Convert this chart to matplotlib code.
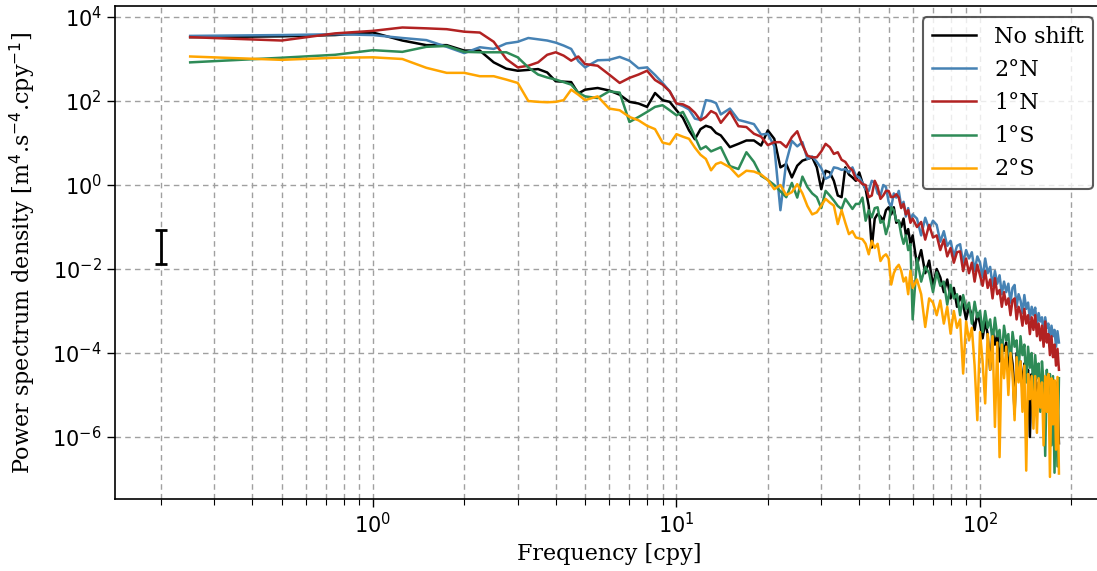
import numpy as np
import matplotlib
matplotlib.use("Agg")
import matplotlib.pyplot as plt
from matplotlib.ticker import LogLocator, NullLocator, FixedLocator

# frequency grid [cpy]: fine at low frequency, coarser in the noisy tail
freq = np.concatenate([np.arange(1, 21) * 0.25,
                       np.arange(11, 29) * 0.5,
                       np.arange(15, 61),
                       np.arange(62, 183, 2)])

# log10 of the power spectrum density
log_noshift = [
    3.52, 3.54, 3.57, 3.63, 3.44, 3.33, 3.33, 3.20, 3.20, 2.92, 2.77, 2.72, 2.74, 2.76, 2.68, 2.47, 2.46, 2.45, 2.18, 2.27,
    2.31, 2.25, 2.15, 1.98, 1.94, 1.86, 2.19, 2.02, 1.98, 1.78, 1.60, 1.30, 1.09, 1.33, 1.41, 1.37, 1.24, 1.18,
    0.90, 0.98, 1.06, 1.06, 0.94, 1.30, 1.10, 0.42, 0.50, 0.18,
    0.46, 0.58, 0.62, 0.66, 0.42, -0.10, 0.34, 0.30, 0.10, -0.25,
    -0.29, 0.42, 0.25, 0.18, 0.10, 0.30, 0.05, -0.10, -0.50, -1.49,
    -0.80, -0.69, -0.75, -0.85, -0.60, -0.53, -0.70, -0.53, -0.90, -0.85,
    -1.00, -0.80, -1.20, -1.05, -1.40, -1.20,
    -1.90, -1.55, -2.10, -1.80, -2.40, -2.00, -2.20, -2.55, -2.25, -2.70,
    -2.45, -2.90, -2.65, -2.85, -3.20, -2.90, -3.10, -3.45, -3.05, -3.30,
    -3.65, -3.25, -3.55, -4.40, -3.45, -3.80, -3.55, -4.20, -3.70, -3.95,
    -3.75, -4.50, -3.90, -4.25, -5.45, -4.00, -4.45, -4.20, -4.90, -4.25,
    -4.60, -4.40, -6.00, -4.50, -4.85, -4.60, -5.30, -4.70, -5.05, -4.85,
    -5.60, -4.90, -5.20, -5.00, -5.80, -5.05, -5.40, -5.20, -6.00, -5.20,
    -6.15]

log_2n = [
    3.55, 3.57, 3.59, 3.57, 3.50, 3.45, 3.29, 3.14, 3.28, 3.24, 3.37, 3.41, 3.50, 3.47, 3.44, 3.39, 3.32, 3.24, 2.95, 2.80,
    2.97, 2.98, 3.05, 2.96, 2.78, 2.80, 2.62, 2.43, 2.23, 1.94, 1.88, 1.80, 1.58, 1.55, 2.02, 2.00, 1.95, 1.68,
    1.82, 1.55, 1.50, 1.45, 1.20, 1.22, 0.92, -0.60, 0.55, 1.05,
    0.92, 1.02, 0.62, 0.68, 0.55, 0.40, 0.15, 0.20, 0.42, 0.40,
    0.36, 0.38, 0.30, 0.42, 0.22, 0.18, 0.05, -0.10, -0.14, 0.10,
    0.05, -0.20, -0.25, 0.00, -0.05, -0.40, -0.53, -0.20, -0.30, -0.14,
    -0.50, -0.40, -0.75, -0.55, -0.85, -0.70,
    -0.80, -1.20, -0.78, -1.05, -0.85, -0.95, -1.35, -1.10, -1.45, -1.33,
    -1.70, -1.45, -1.41, -1.85, -1.55, -1.75, -1.60, -2.05, -1.70, -1.85,
    -2.20, -1.75, -2.10, -1.95, -2.40, -2.05, -2.35, -2.15, -2.60, -2.30,
    -2.55, -2.35, -2.80, -2.45, -2.38, -2.90, -2.60, -2.75, -3.05, -2.62,
    -2.95, -2.80, -3.20, -2.90, -3.10, -2.92, -3.35, -3.05, -3.25, -3.15,
    -3.55, -3.15, -3.40, -3.30, -3.70, -3.35, -3.60, -3.45, -3.85, -3.48,
    -3.75]

log_1n = [
    3.52, 3.44, 3.61, 3.67, 3.75, 3.73, 3.71, 3.65, 3.63, 3.41, 3.00, 2.80, 2.84, 2.92, 3.10, 3.16, 3.08, 2.96, 3.06, 2.88,
    2.84, 2.63, 2.43, 2.55, 2.63, 2.72, 2.50, 2.39, 2.23, 1.94, 1.92, 1.85, 1.72, 1.54, 1.62, 1.76, 1.70, 1.48,
    1.75, 1.40, 1.38, 1.22, 1.15, 0.95, 1.02, 1.02, 0.90, 1.14,
    1.28, 0.95, 0.70, 0.66, 0.66, 0.80, 0.98, 0.90, 0.74, 0.78,
    0.60, 0.55, 0.42, 0.35, 0.14, 0.10, 0.02, 0.00, -0.29, -0.25,
    0.10, -0.05, -0.33, -0.25, -0.14, -0.14, -0.29, -0.28, -0.22, -0.30,
    -0.55, -0.45, -0.70, -0.60, -0.90, -0.80,
    -1.00, -0.88, -1.30, -0.95, -1.25, -1.20, -1.55, -1.30, -1.70, -1.50,
    -1.85, -1.60, -1.58, -2.05, -1.75, -2.10, -1.85, -2.30, -1.90, -2.15,
    -2.40, -2.05, -2.45, -2.25, -2.70, -2.22, -2.60, -2.50, -2.90, -2.55,
    -2.85, -2.70, -3.10, -2.75, -2.70, -3.20, -2.90, -3.05, -3.35, -2.95,
    -3.30, -3.10, -3.55, -3.15, -3.45, -3.10, -3.60, -3.30, -3.70, -3.35,
    -3.85, -3.25, -3.75, -3.55, -4.05, -3.60, -4.10, -3.80, -4.30, -3.90,
    -4.40]

log_1s = [
    2.92, 3.03, 3.10, 3.21, 3.17, 3.29, 3.31, 3.17, 3.16, 3.16, 3.16, 3.04, 2.80, 2.63, 2.56, 2.51, 2.45, 2.39, 2.20, 2.11,
    2.07, 2.23, 2.20, 1.50, 1.62, 1.74, 1.86, 1.90, 1.78, 1.66, 1.74, 1.46, 1.15, 0.85, 0.92, 0.80, 0.85, 0.90,
    0.45, 0.38, 0.78, 0.55, 0.22, 0.12, 0.00, -0.15, -0.29, 0.05,
    -0.30, 0.20, -0.05, -0.20, -0.29, -0.55, -0.14, -0.25, -0.37, -0.50,
    -0.57, -0.33, -0.45, -0.57, -0.45, -0.45, -0.30, -0.85, -0.60, -0.77,
    -0.55, -0.53, -0.90, -0.85, -1.17, -0.95, -0.53, -0.60, -0.85, -0.85,
    -1.18, -1.40, -1.20, -1.55, -1.41, -3.20,
    -1.75, -2.30, -1.95, -2.10, -2.55, -2.08, -2.40, -2.30, -2.85, -2.38,
    -2.70, -2.60, -3.10, -2.62, -2.95, -2.80, -3.30, -2.78, -3.15, -3.00,
    -3.50, -3.00, -3.40, -3.20, -3.75, -3.16, -3.60, -3.45, -4.10, -3.35,
    -3.70, -3.55, -4.30, -3.50, -3.85, -3.70, -4.50, -3.60, -4.05, -3.80,
    -4.70, -3.85, -4.35, -4.00, -5.00, -4.05, -4.60, -4.25, -5.40, -4.20,
    -4.70, -6.45, -4.40, -5.10, -4.50, -6.20, -4.55, -6.85, -4.70, -6.70,
    -4.60]

log_2s = [
    3.06, 2.98, 3.03, 3.04, 3.00, 2.79, 2.67, 2.67, 2.59, 2.59, 2.51, 2.43, 2.00, 1.98, 1.97, 1.98, 2.02, 2.27, 2.15, 2.02,
    2.11, 1.82, 1.78, 1.62, 1.54, 1.41, 1.33, 1.01, 0.97, 1.21, 1.15, 1.10, 0.89, 0.72, 0.62, 0.35, 0.50, 0.54,
    0.42, 0.20, 0.34, 0.32, 0.25, 0.12, -0.10, 0.00, -0.24, -0.17,
    0.02, -0.20, -0.50, -0.70, -0.65, -0.49, -0.33, -0.42, -0.49, -0.93,
    -0.60, -0.90, -1.17, -1.10, -1.25, -1.27, -1.29, -1.40, -1.65, -1.33,
    -1.50, -1.40, -1.81, -1.70, -1.65, -1.75, -2.37, -2.10, -1.97, -1.90,
    -2.04, -2.30, -2.20, -2.60, -2.04, -2.45,
    -2.25, -2.60, -3.38, -2.70, -2.80, -3.10, -2.75, -3.30, -2.90, -3.54,
    -3.00, -3.40, -3.20, -4.49, -3.25, -3.70, -3.40, -4.30, -5.60, -3.50,
    -4.20, -5.20, -3.55, -4.40, -3.60, -5.76, -3.75, -6.48, -3.80, -4.60,
    -3.85, -5.00, -4.00, -4.50, -5.60, -4.10, -4.70, -4.20, -5.40, -4.30,
    -6.80, -4.50, -5.10, -4.55, -5.80, -4.55, -5.90, -4.60, -5.30, -4.70,
    -6.20, -4.55, -5.40, -4.50, -6.95, -4.60, -5.70, -4.65, -6.30, -4.57,
    -6.87]

labels = ["No shift", "2°N", "1°N", "1°S", "2°S"]
colors = ["black", "steelblue", "firebrick", "seagreen", "orange"]

# confidence interval bar
err_f = 0.2
err_lo = 0.013
err_hi = 0.085

fig = plt.figure(figsize=(10.97, 5.71), dpi=100)
ax = fig.add_axes([0.1048, 0.1261, 0.9015, 0.8634])

for vals, lab, c in zip([log_noshift, log_2n, log_1n, log_1s, log_2s], labels, colors):
    ax.plot(freq, 10 ** np.array(vals), color=c, lw=1.8, label=lab)

mid = np.sqrt(err_lo * err_hi)
ax.errorbar([err_f], [mid], yerr=[[mid - err_lo], [err_hi - mid]], fmt="none",
            ecolor="black", elinewidth=2, capsize=4, capthick=2)

ax.set_xscale("log")
ax.set_yscale("log")
ax.set_xlim(0.1413, 256)
ax.set_ylim(10 ** -7.476, 10 ** 4.262)

ax.yaxis.set_major_locator(FixedLocator([1e-6, 1e-4, 1e-2, 1e0, 1e2, 1e4]))
ax.yaxis.set_minor_locator(NullLocator())
ax.xaxis.set_minor_locator(LogLocator(base=10, subs=np.arange(2, 10), numticks=20))

ax.grid(True, which="major", axis="both", color="#a0a0a0", ls=(0, (4, 3)), lw=1.0)
ax.grid(True, which="minor", axis="x", color="#a0a0a0", ls=(0, (4, 3)), lw=1.0)
ax.tick_params(axis="both", which="major", labelsize=15, length=6, width=1)
ax.tick_params(axis="x", which="minor", length=4, width=0.8)
for sp in ax.spines.values():
    sp.set_linewidth(1.2)

ax.set_xlabel("Frequency [cpy]", family="DejaVu Serif", fontsize=16)
ax.set_ylabel("Power spectrum density [m$^4$.s$^{-4}$.cpy$^{-1}$]",
              family="DejaVu Serif", fontsize=16, labelpad=10)

leg = ax.legend(loc="upper right", prop={"family": "DejaVu Serif", "size": 16},
                fancybox=True, framealpha=0.8, handlelength=2.0, labelspacing=0.5)
leg.get_frame().set_edgecolor("#333333")
leg.get_frame().set_linewidth(1.5)

# x tick labels drawn with serif math glyphs, as in the original
fig.canvas.draw()
for t in ax.get_xticklabels():
    t.set_math_fontfamily("dejavuserif")

fig.savefig("out.png", dpi=100)
